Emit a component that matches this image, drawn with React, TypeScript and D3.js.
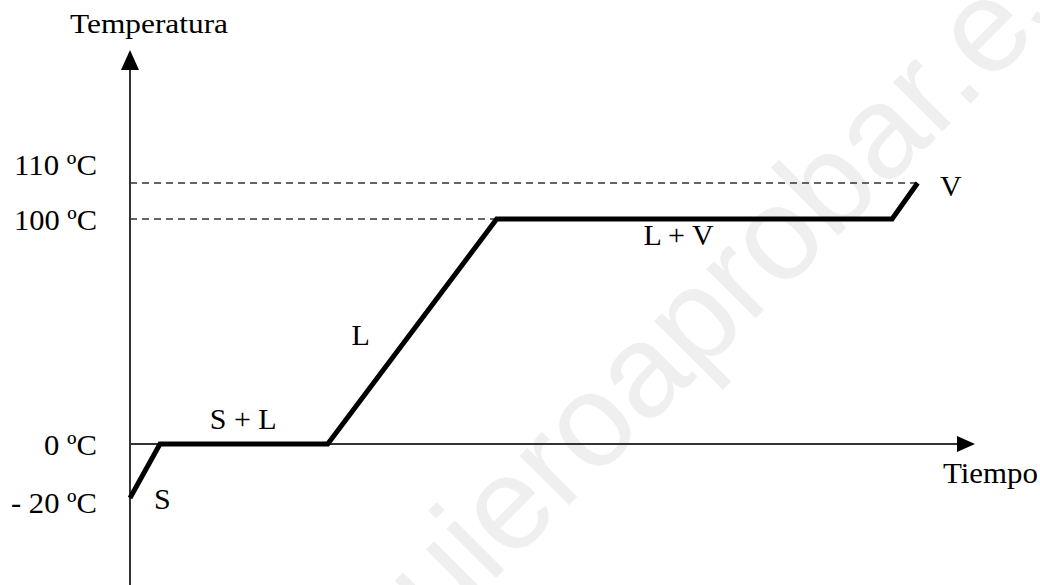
import React from 'react';
import * as d3 from 'd3';

// heating curve: time (arbitrary units) vs temperature (ºC)
const curveTimes = [0, 0.94, 6.2, 11.5, 23.9, 24.7];
const curveTemps = [-20, 0, 0, 100, 100, 110];

const tickTemps = [110, 100, 0, -20];
const tickLabels = ['110 ºC', '100 ºC', '0 ºC', '- 20 ºC'];
const dashedTemps = [110, 100];

const phaseLabels = ['S', 'S + L', 'L', 'L + V', 'V'];
const phaseTimes = [0.75, 2.5, 6.95, 16.1, 25.4];
const phaseTemps = [-24, 6.5, 44, 88.5, 106.5];

const W = 1040;
const H = 585;
const FONT = '"Liberation Serif", "Times New Roman", serif';

const App = () => {
  const x = d3.scaleLinear().domain([0, 26.5]).range([130, 975]);
  // the original figure is not drawn to scale, so a piecewise scale is used
  const y = d3.scaleLinear().domain([-20, 0, 100, 110]).range([498, 444, 219, 183]);

  const line = d3.line<number>()
    .x((_, i) => x(curveTimes[i]))
    .y(d => y(d));

  const x0 = x(0);
  const y0 = y(0);
  const xEnd = x.range()[1];

  return (
    <svg width={W} height={H} style={{ position: 'absolute', left: 0, top: 0, background: '#fff' }}>
      <text
        transform={`translate(386,688) rotate(-45)`}
        fontFamily='"Liberation Sans", Arial, sans-serif'
        fontSize={132}
        fill="#efefef"
      >quieroaprobar.es</text>

      {/* dashed reference lines */}
      {dashedTemps.map(t => {
        const idx = curveTemps.indexOf(t);
        return (
          <line key={t} x1={x0} x2={x(curveTimes[idx])} y1={y(t)} y2={y(t)}
            stroke="#333" strokeWidth={1.5} strokeDasharray="7,5" />
        );
      })}

      {/* axes */}
      <line x1={x0} x2={x0} y1={H} y2={66} stroke="#333" strokeWidth={2} />
      <path d={`M${x0},50 L${x0 - 9},70 L${x0 + 9},70 Z`} fill="#000" />
      <line x1={x0} x2={xEnd - 14} y1={y0} y2={y0} stroke="#333" strokeWidth={2} />
      <path d={`M${xEnd},${y0} L${xEnd - 18},${y0 - 8} L${xEnd - 18},${y0 + 8} Z`} fill="#000" />

      {/* curve */}
      <path d={line(curveTemps) || ''} fill="none" stroke="#000" strokeWidth={5} strokeLinejoin="miter" />

      {/* tick labels */}
      {tickTemps.map((t, i) => (
        <text key={t} x={97} y={y(t) + (t === 110 ? -8 : t === 100 ? 11 : t === 0 ? 11 : 15)}
          textAnchor="end" fontFamily={FONT} fontSize={30} fill="#000"
          textLength={t === 0 ? 53 : t === -20 ? 86 : 83} lengthAdjust="spacingAndGlyphs">
          {tickLabels[i]}
        </text>
      ))}

      {/* phase labels */}
      {phaseLabels.map((l, i) => (
        <text key={l} x={x(phaseTimes[i])} y={y(phaseTemps[i])}
          fontFamily={FONT} fontSize={30} fill="#000">
          {l}
        </text>
      ))}

      {/* axis titles */}
      <text x={70} y={33} fontFamily={FONT} fontSize={27} fill="#000"
        textLength={158} lengthAdjust="spacingAndGlyphs">Temperatura</text>
      <text x={943} y={483} fontFamily={FONT} fontSize={30} fill="#000"
        textLength={95} lengthAdjust="spacingAndGlyphs">Tiempo</text>
    </svg>
  );
};

export default App;
